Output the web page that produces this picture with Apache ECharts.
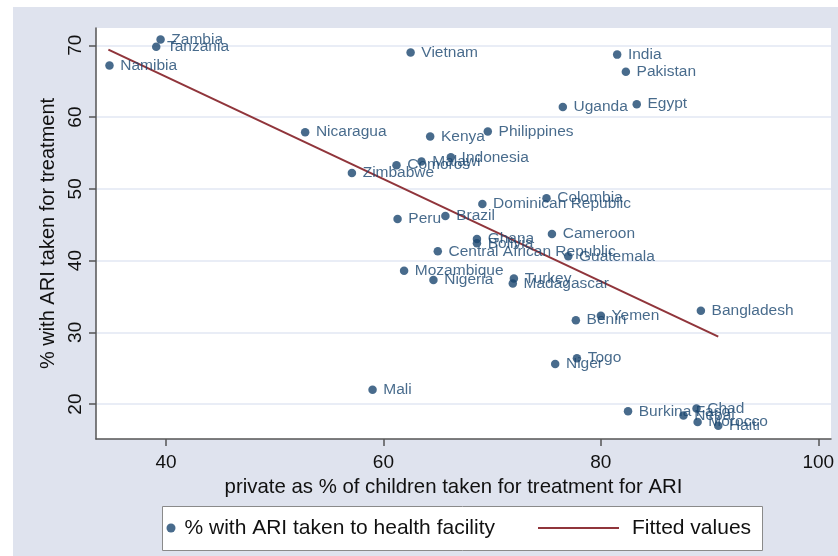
<!DOCTYPE html>
<html>
<head>
<meta charset="utf-8">
<script src="https://cdn.jsdelivr.net/npm/echarts@6/dist/echarts.min.js"></script>
<style>
html,body{margin:0;padding:0;background:#fff;}
#chart{width:838px;height:556px;}
</style>
</head>
<body>
<div id="chart"></div>
<script>
// ---- data ----
const countries = ["Zambia","Tanzania","Namibia","Vietnam","India","Pakistan","Uganda","Egypt",
  "Nicaragua","Kenya","Philippines","Indonesia","Malawi","Comoros","Zimbabwe","Colombia",
  "Dominican Republic","Peru","Brazil","Cameroon","Ghana","Bolivia","Central African Republic",
  "Guatemala","Mozambique","Nigeria","Turkey","Madagascar","Bangladesh","Yemen","Benin","Togo",
  "Niger","Mali","Burkina Faso","Chad","Nepal","Morocco","Haiti"];
const privatePct = [39.5,39.1,34.8,62.5,81.5,82.3,76.5,83.3,
  52.8,64.3,69.6,66.2,63.5,61.2,57.1,75.0,
  69.1,61.3,65.7,75.5,68.6,68.6,65.0,
  77.0,61.9,64.6,72.0,71.9,89.2,80.0,77.7,77.8,
  75.8,59.0,82.5,88.8,87.6,88.9,90.8];
const healthFacilityPct = [70.8,69.8,67.2,69.0,68.7,66.3,61.4,61.8,
  57.9,57.3,58.0,54.4,53.8,53.3,52.2,48.7,
  47.9,45.8,46.2,43.7,43.0,42.4,41.3,
  40.6,38.6,37.3,37.5,36.8,33.0,32.3,31.7,26.4,
  25.6,22.0,19.0,19.4,18.4,17.5,17.0];
const fittedX = [34.7, 90.8];
const fittedY = [69.4, 29.4];
const xTicks = [40, 60, 80, 100];
const yTicks = [20, 30, 40, 50, 60, 70];

const seriesNames = ["% with ARI taken to health facility", "Fitted values"];

// ---- build ----
const FONT = "'Liberation Sans', Arial, sans-serif";
const NAVY = "#1a466f";
const MAROON = "#90353b";
const BG = "#dfe3ee";

const scatterData = countries.map((c, i) => ({ name: c, value: [privatePct[i], healthFacilityPct[i]] }));
const lineData = fittedX.map((x, i) => [x, fittedY[i]]);

const chart = echarts.init(document.getElementById('chart'), null, { renderer: 'canvas' });
chart.setOption({
  animation: false,
  backgroundColor: '#ffffff',
  textStyle: { fontFamily: FONT },
  graphic: [
    { type: 'rect', z: -10, silent: true, shape: { x: 13, y: 7, width: 825, height: 549 }, style: { fill: BG } },
    { type: 'rect', z: -5, silent: true, shape: { x: 162.5, y: 506.5, width: 600, height: 44 }, style: { fill: '#ffffff', stroke: '#8a8a8a', lineWidth: 1 } }
  ],
  grid: {
    left: 96, top: 28, width: 735, height: 411,
    show: true, backgroundColor: '#ffffff', borderWidth: 0
  },
  xAxis: {
    type: 'value', min: 33.56, max: 101.17,
    name: 'private as % of children taken for treatment for ARI',
    nameLocation: 'middle', nameGap: 30,
    nameTextStyle: { fontSize: 20.4, color: '#111', fontFamily: FONT, padding: [0, 20, 0, 0] },
    axisLine: { show: true, onZero: false, lineStyle: { color: '#555', width: 1.5 } },
    axisTick: { show: true, length: 7, customValues: xTicks, lineStyle: { color: '#555', width: 1.5 } },
    axisLabel: { customValues: xTicks, fontSize: 19, color: '#111', margin: 14, fontFamily: FONT },
    splitLine: { show: false }
  },
  yAxis: {
    type: 'value', min: 15.14, max: 72.41,
    name: '% with ARI taken for treatment',
    nameLocation: 'middle', nameGap: 38, nameRotate: 90,
    nameTextStyle: { fontSize: 20, color: '#111', fontFamily: FONT },
    axisLine: { show: true, onZero: false, lineStyle: { color: '#555', width: 1.5 } },
    axisTick: { show: true, length: 7, customValues: yTicks, lineStyle: { color: '#555', width: 1.5 } },
    axisLabel: { customValues: yTicks, rotate: 90, fontSize: 19, color: '#111', margin: 11, fontFamily: FONT },
    splitLine: { show: true, customValues: yTicks, lineStyle: { color: '#e2e7f3', width: 1.6 } }
  },
  legend: [
    {
      data: [seriesNames[0]], left: 166.5, top: 516, padding: 0,
      icon: 'circle', itemWidth: 9, itemHeight: 9,
      textStyle: { fontSize: 21, color: '#111', fontFamily: FONT, lineHeight: 24, padding: [0, 0, 0, 4] },
      selectedMode: false
    },
    {
      data: [{ name: seriesNames[1], icon: 'rect' }], left: 538, top: 516, padding: 0,
      itemWidth: 81, itemHeight: 2,
      textStyle: { fontSize: 21, color: '#111', fontFamily: FONT, lineHeight: 24, padding: [0, 0, 0, 8] },
      selectedMode: false
    }
  ],
  series: [
    {
      name: seriesNames[0], type: 'scatter', data: scatterData,
      symbol: 'circle', symbolSize: 8.5,
      itemStyle: { color: NAVY },
      label: {
        show: true, position: 'right', distance: 6.5,
        formatter: p => p.name,
        fontSize: 15.5, color: NAVY, fontFamily: FONT
      },
      labelLayout: { hideOverlap: false },
      z: 3
    },
    {
      name: seriesNames[1], type: 'line', data: lineData,
      showSymbol: false, symbol: 'none',
      lineStyle: { color: MAROON, width: 2 },
      itemStyle: { color: MAROON },
      z: 2
    }
  ]
});
</script>
</body>
</html>
